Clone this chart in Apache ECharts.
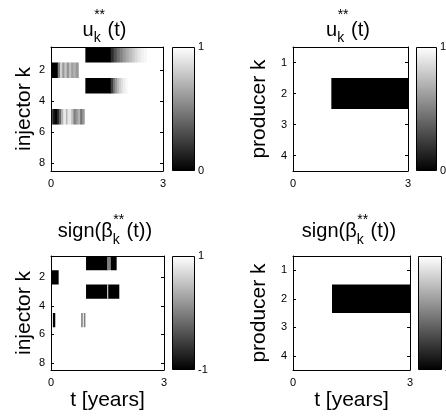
<!DOCTYPE html>
<html>
<head>
<meta charset="utf-8">
<title>optimal controls</title>
<script src="https://cdn.jsdelivr.net/npm/echarts@6.0.0/dist/echarts.min.js"></script>
<style>
  html, body { margin: 0; padding: 0; background: #fff; }
  #chart { width: 446px; height: 419px; }
</style>
</head>
<body>
<div id="chart"></div>
<script>
// each segment: [t start, t end, well k, value]
const injectorU = [
  [0.92, 1.60, 1, 0.00],
  [1.60, 1.68, 1, 0.18], [1.68, 1.76, 1, 0.32], [1.76, 1.84, 1, 0.43], [1.84, 1.92, 1, 0.52],
  [1.92, 2.00, 1, 0.60], [2.00, 2.08, 1, 0.67], [2.08, 2.16, 1, 0.73], [2.16, 2.24, 1, 0.79],
  [2.24, 2.32, 1, 0.85], [2.32, 2.40, 1, 0.90], [2.40, 2.48, 1, 0.94], [2.48, 2.56, 1, 0.97],
  [0.00, 0.18, 2, 0.00], [0.18, 0.24, 2, 0.50], [0.24, 0.30, 2, 0.82], [0.30, 0.36, 2, 0.60],
  [0.36, 0.42, 2, 0.78], [0.42, 0.48, 2, 0.58], [0.48, 0.54, 2, 0.75], [0.54, 0.60, 2, 0.62],
  [0.60, 0.66, 2, 0.70], [0.66, 0.73, 2, 0.60],
  [0.92, 1.60, 3, 0.00],
  [1.60, 1.66, 3, 0.25], [1.66, 1.71, 3, 0.45], [1.71, 1.77, 3, 0.60], [1.77, 1.82, 3, 0.72],
  [1.82, 1.88, 3, 0.81], [1.88, 1.93, 3, 0.88], [1.93, 1.99, 3, 0.93], [1.99, 2.04, 3, 0.97],
  [0.00, 0.05, 5, 0.30], [0.05, 0.10, 5, 0.10], [0.10, 0.16, 5, 0.02], [0.16, 0.21, 5, 0.15],
  [0.21, 0.27, 5, 0.40], [0.27, 0.33, 5, 0.70], [0.33, 0.40, 5, 0.92], [0.40, 0.44, 5, 0.70],
  [0.44, 0.54, 5, 0.90], [0.54, 0.60, 5, 0.75], [0.60, 0.66, 5, 0.50], [0.66, 0.72, 5, 0.60],
  [0.72, 0.78, 5, 0.70], [0.78, 0.84, 5, 0.45], [0.84, 0.89, 5, 0.60]
];
const producerU = [
  [1.00, 3.00, 2, 0.00]
];
const injectorSign = [
  [0.93, 1.49, 1, -1], [1.49, 1.59, 1, 0], [1.59, 1.73, 1, -1],
  [0.00, 0.19, 2, -1],
  [0.93, 1.49, 3, -1], [1.49, 1.52, 3, 0.6], [1.52, 1.80, 3, -1],
  [0.05, 0.10, 5, -1], [0.80, 0.83, 5, 0], [0.87, 0.90, 5, 0]
];
const producerSign = [
  [1.00, 3.00, 2, -1]
];

const timeRange = [0, 3];
const timeTicks = [0, 3];
const injectorTicks = [2, 4, 6, 8];
const producerTicks = [1, 2, 3, 4];
const uRange = [0, 1];
const signRange = [-1, 1];
const grayRamp = ['#000000', '#ffffff'];

const font = 'Liberation Sans';

const panels = [
  { data: injectorU, wells: 8, ticks: injectorTicks, range: uRange, ylab: 'injector k', xlab: '',
    box: [51, 47, 112, 124], bar: [172, 23], nameGap: 10, title: ['u', '(t)'], supRise: 17, base: 37 },
  { data: producerU, wells: 4, ticks: producerTicks, range: uRange, ylab: 'producer k', xlab: '',
    box: [293, 47, 115, 124], bar: [416, 21], nameGap: 23, title: ['u', '(t)'], supRise: 17, base: 37 },
  { data: injectorSign, wells: 8, ticks: injectorTicks, range: signRange, ylab: 'injector k', xlab: 't [years]',
    box: [51, 256, 113, 114], bar: [172, 23], nameGap: 10, title: ['sign(\u03b2', '(t))'], supRise: 13.5, base: 238.5 },
  { data: producerSign, wells: 4, ticks: producerTicks, range: signRange, ylab: 'producer k', xlab: 't [years]',
    box: [293, 256, 117, 114], bar: [418, 24], nameGap: 23, title: ['sign(\u03b2', '(t))'], supRise: 13.5, base: 238.5 }
];

function cellRect(params, api) {
  const a = api.coord([api.value(0), api.value(2) - 0.5]);
  const b = api.coord([api.value(1), api.value(2) + 0.5]);
  return {
    type: 'rect',
    shape: {
      x: Math.min(a[0], b[0]),
      y: Math.min(a[1], b[1]),
      width: Math.abs(b[0] - a[0]) + 0.5,
      height: Math.abs(b[1] - a[1])
    },
    style: { fill: api.visual('color') }
  };
}

function barRect(params, api) {
  const lo = api.coord([0, api.value(0)]);
  const hi = api.coord([1, api.value(1)]);
  return {
    type: 'rect',
    shape: { x: lo[0] + 0.5, y: hi[1] + 0.5, width: hi[0] - lo[0] - 1, height: lo[1] - hi[1] - 1 },
    style: {
      fill: new echarts.graphic.LinearGradient(0, 0, 0, 1, [
        { offset: 0, color: grayRamp[1] },
        { offset: 1, color: grayRamp[0] }
      ]),
      stroke: '#000',
      lineWidth: 1
    }
  };
}

const measure = document.createElement('canvas').getContext('2d');
function textWidth(s, size) {
  measure.font = size + 'px "' + font + '"';
  return measure.measureText(s).width;
}

function titleGraphics(p) {
  const big = 20, small = 14, gap = 3;
  const cx = p.box[0] + p.box[2] / 2 - 2.5;
  const wHead = textWidth(p.title[0], big);
  const wScript = Math.max(textWidth('k', small), textWidth('**', small));
  const total = wHead + wScript + gap + textWidth(p.title[1], big);
  const x0 = cx - total / 2;
  function txt(s, x, base, size) {
    return {
      type: 'text', x: x, y: base - 0.35 * size, silent: true,
      style: { text: s, fill: '#000', font: size + 'px "' + font + '"', align: 'left', verticalAlign: 'middle' }
    };
  }
  return [
    txt(p.title[0], x0, p.base, big),
    txt('k', x0 + wHead, p.base + 6.5, small),
    txt('**', x0 + wHead + 0.5, p.base - p.supRise, small),
    txt(p.title[1], x0 + wHead + wScript + gap, p.base, big)
  ];
}

const grid = [], xAxis = [], yAxis = [], series = [], visualMap = [], graphic = [];
const frameLine = { show: true, onZero: false, lineStyle: { color: '#000', width: 1 } };
const labelStyle = { fontSize: 11, color: '#000', fontFamily: font };
const nameStyle = { fontSize: 21, color: '#000', fontFamily: font };

panels.forEach(function (p) {
  const g = grid.length;
  grid.push({ left: p.box[0], top: p.box[1], width: p.box[2], height: p.box[3], outerBoundsMode: 'none' });
  grid.push({ left: p.bar[0], top: p.box[1], width: p.bar[1], height: p.box[3], outerBoundsMode: 'none' });

  const xi = xAxis.length, yi = yAxis.length;
  xAxis.push({
    gridIndex: g, type: 'value', min: timeRange[0], max: timeRange[1], position: 'bottom', z: 5,
    axisLine: frameLine, axisTick: { show: false }, splitLine: { show: false },
    axisLabel: Object.assign({ customValues: timeTicks, margin: 7 }, labelStyle),
    name: p.xlab, nameLocation: 'middle', nameGap: 20, nameTextStyle: nameStyle
  });
  xAxis.push({
    gridIndex: g, type: 'value', min: timeRange[0], max: timeRange[1], position: 'top', z: 5,
    axisLine: frameLine, axisTick: { show: false }, axisLabel: { show: false }, splitLine: { show: false }
  });
  xAxis.push({ gridIndex: g + 1, type: 'value', min: 0, max: 1, show: false });

  yAxis.push({
    gridIndex: g, type: 'value', min: 0.5, max: p.wells + 0.5, inverse: true, position: 'left', z: 5,
    axisLine: frameLine,
    axisTick: { show: true, inside: true, length: 3, customValues: p.ticks, lineStyle: { color: '#000' } },
    axisLabel: Object.assign({ customValues: p.ticks, margin: 6 }, labelStyle),
    splitLine: { show: false },
    name: p.ylab, nameLocation: 'middle', nameGap: p.nameGap, nameTextStyle: nameStyle
  });
  yAxis.push({
    gridIndex: g, type: 'value', min: 0.5, max: p.wells + 0.5, inverse: true, position: 'right', z: 5,
    axisLine: frameLine,
    axisTick: { show: true, inside: true, length: 3, customValues: p.ticks, lineStyle: { color: '#000' } },
    axisLabel: { show: false }, splitLine: { show: false }
  });
  yAxis.push({
    gridIndex: g + 1, type: 'value', min: p.range[0], max: p.range[1], position: 'right',
    axisLine: { show: false }, axisTick: { show: false }, splitLine: { show: false },
    axisLabel: Object.assign({ customValues: p.range, margin: 3 }, labelStyle)
  });

  visualMap.push({
    type: 'continuous', show: false, seriesIndex: series.length, dimension: 3,
    min: p.range[0], max: p.range[1], inRange: { color: grayRamp }
  });
  series.push({
    type: 'custom', xAxisIndex: xi, yAxisIndex: yi, data: p.data,
    encode: { x: [0, 1], y: 2 }, renderItem: cellRect, clip: true, silent: true
  });
  series.push({
    type: 'custom', xAxisIndex: xi + 2, yAxisIndex: yi + 2, data: [p.range],
    encode: { y: [0, 1] }, renderItem: barRect, silent: true
  });

  titleGraphics(p).forEach(function (t) { graphic.push(t); });
});

const chart = echarts.init(document.getElementById('chart'));
chart.setOption({
  animation: false,
  backgroundColor: '#fff',
  grid: grid,
  xAxis: xAxis,
  yAxis: yAxis,
  visualMap: visualMap,
  series: series,
  graphic: graphic
});
window.addEventListener('resize', function () { chart.resize(); });
</script>
</body>
</html>
